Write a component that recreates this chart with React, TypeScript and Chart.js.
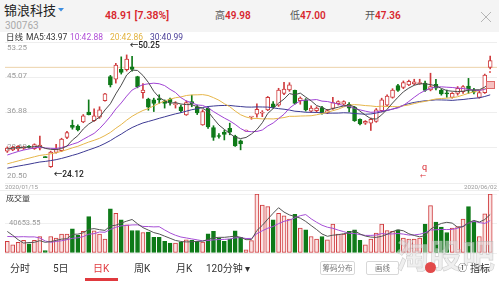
import React, { useEffect, useRef } from "react";
import { Chart, registerables } from "chart.js";
Chart.register(...registerables);

// ---------- data ----------
const dates = [
  "2020/01/15","2020/01/16","2020/01/17","2020/01/20","2020/01/21","2020/01/22","2020/01/23",
  "2020/02/03","2020/02/04","2020/02/05","2020/02/06","2020/02/07","2020/02/10","2020/02/11","2020/02/12","2020/02/13","2020/02/14",
  "2020/02/17","2020/02/18","2020/02/19","2020/02/20","2020/02/21","2020/02/24","2020/02/25","2020/02/26","2020/02/27","2020/02/28",
  "2020/03/02","2020/03/03","2020/03/04","2020/03/05","2020/03/06","2020/03/09","2020/03/10","2020/03/11","2020/03/12","2020/03/13",
  "2020/03/16","2020/03/17","2020/03/18","2020/03/19","2020/03/20","2020/03/23","2020/03/24","2020/03/25","2020/03/26","2020/03/27",
  "2020/03/30","2020/03/31",
  "2020/04/01","2020/04/02","2020/04/03","2020/04/07","2020/04/08","2020/04/09","2020/04/10","2020/04/13","2020/04/14","2020/04/15",
  "2020/04/16","2020/04/17","2020/04/20","2020/04/21","2020/04/22","2020/04/23","2020/04/24","2020/04/27","2020/04/28","2020/04/29","2020/04/30",
  "2020/05/06","2020/05/07","2020/05/08","2020/05/11","2020/05/12","2020/05/13","2020/05/14","2020/05/15","2020/05/18","2020/05/19",
  "2020/05/20","2020/05/21","2020/05/22","2020/05/25","2020/05/26","2020/05/27","2020/05/28","2020/05/29",
  "2020/06/01","2020/06/02",
];

const opens = [
  27.9,28.2,28.4,28.6,29.0,28.5,28.6,26.4,24.3,27.6,
  28.0,31.1,33.9,33.7,34.7,37.0,35.0,35.8,39.6,45.2,
  44.6,46.9,46.8,47.5,45.2,41.5,40.0,39.8,40.1,39.5,
  40.0,38.7,38.2,36.3,39.4,38.2,34.0,37.9,33.4,31.5,
  32.3,33.2,31.4,30.3,32.56,35.82,36.5,36.7,37.5,38.9,
  38.6,41.3,42.1,42.0,39.6,39.8,37.2,37.3,38.0,36.85,
  37.8,38.9,38.8,38.8,38.1,35.3,34.4,34.4,34.8,37.3,
  38.6,40.4,43.1,42.7,43.3,43.5,43.6,43.7,42.1,43.4,
  42.0,41.4,40.4,41.3,41.7,43.0,42.1,40.4,41.5,47.36,
];
const highs = [
  28.9,29.0,29.2,29.0,29.2,29.6,31.4,26.4,27.9,29.5,
  30.9,32.5,35.1,34.0,36.4,39.8,37.7,38.2,41.3,45.5,
  48.3,49.8,50.25,49.9,45.3,43.6,40.2,40.2,41.0,39.8,
  40.2,39.4,38.6,39.6,40.9,38.6,37.5,38.2,33.8,32.0,
  32.8,34.4,31.6,30.5,32.56,35.82,38.9,37.3,40.6,39.4,
  42.5,43.9,43.8,42.1,40.5,40.1,38.4,38.2,38.3,37.6,
  40.4,39.6,39.6,39.2,38.3,35.4,35.0,35.6,37.8,40.2,
  41.0,42.4,43.4,44.2,44.4,44.6,44.6,44.2,46.0,44.6,
  42.3,42.1,41.5,42.9,43.1,44.8,42.5,41.9,45.8,49.98,
];
const lows = [
  27.6,28.0,28.0,28.3,28.6,28.3,28.2,26.4,24.12,27.4,
  27.8,30.8,33.0,32.6,34.5,36.3,34.8,35.5,39.5,42.8,
  43.7,45.8,46.5,46.5,42.6,40.2,37.4,37.1,39.0,37.9,
  38.6,37.9,36.9,36.2,38.2,36.4,33.9,33.2,30.4,30.9,
  30.5,31.7,29.0,28.2,32.56,35.3,35.8,35.9,37.3,37.9,
  38.3,41.0,41.8,38.8,38.8,37.2,36.9,36.9,36.5,36.6,
  37.6,38.6,38.6,37.0,34.8,34.0,34.1,32.7,34.6,37.0,
  38.4,40.2,41.8,42.4,43.1,43.3,43.4,41.8,41.9,42.1,
  40.9,40.4,40.2,40.9,41.3,41.3,41.2,40.2,41.3,47.0,
];
const closes = [
  28.6,28.8,29.0,28.8,28.8,29.4,29.3,26.4,27.7,28.4,
  30.7,32.2,33.4,32.8,36.1,36.4,36.1,37.5,41.2,43.3,
  47.9,46.2,49.3,46.9,42.9,42.1,38.1,39.0,39.8,39.0,
  39.2,38.9,37.3,39.2,38.9,36.8,37.1,33.5,31.1,31.3,
  31.8,32.3,29.1,29.6,32.56,35.82,37.6,36.9,40.4,38.25,
  42.1,42.3,43.3,39.0,40.2,37.5,37.9,37.9,36.7,37.3,
  39.2,39.4,39.4,37.9,35.0,34.2,34.8,35.3,37.5,39.8,
  40.7,42.1,42.0,43.8,44.1,44.0,43.8,42.0,42.9,42.5,
  41.2,41.2,41.3,42.5,42.9,42.3,41.6,41.5,45.55,48.91,
];
const volumes = [
  16000,11400,14600,17400,12800,17400,22800,3200,22800,20600,
  26000,26000,33300,24200,29700,50200,30600,26000,19200,60800,
  54800,45700,38800,31000,31000,28300,28800,21500,21500,16000,
  13700,13700,14600,18300,17400,16000,15100,26500,29700,20600,
  16000,19200,30600,21500,4500,17000,81300,66200,64000,45700,
  54800,51200,46600,53400,34300,32000,22800,19200,22800,18300,
  39700,26000,26000,29700,32000,17400,11400,19200,27400,39700,
  31000,29700,32000,20600,19200,19200,20600,39700,65300,42500,
  35600,28300,34300,36500,46600,64000,43400,22800,53900,81300,
];
// closes / volumes before the first visible day (feed the moving averages)
const priorCloses = [
  21.5,21.8,22.2,21.9,21.6,22.0,22.3,21.8,22.1,22.0,
  22.0,22.3,22.1,22.6,22.9,23.0,23.2,23.4,23.6,23.9,
  24.6,25.0,25.5,26.2,26.8,27.8,28.3,28.5,28.7,
];
const priorVolumes = [14000,17000,15500,16000,17000,38000,45000,40400,9100];

const priceTicks = [20.5, 28.69, 36.88, 45.07, 53.25];
const volumeTicks = [0, 40653.55, 81307.1];
const refPrice = 47.36;
const maPeriods = [5, 10, 20, 30];
const volMaPeriods = [5, 10];

// ---------- styles ----------
const RED = "#cf3b3d";
const GREEN = "#0e7a18";
const MA_COLORS = ["#4a4a4a", "#a043d4", "#e6b64a", "#3d3a93"];
const VOL_MA_COLORS = ["#555555", "#a64fd6"];
const X_MIN = -0.424;
const X_MAX = 90.254;
const FONT = "Roboto, 'Noto Sans CJK SC', sans-serif";

function movingAvg(values: number[], prior: number[], n: number) {
  const all = prior.concat(values);
  return values.map((_, i) => {
    const j = i + prior.length;
    let s = 0;
    for (let k = j - n + 1; k <= j; k++) s += all[k];
    return s / n;
  });
}

const idx = dates.map((_, i) => i);
const isUp = idx.map((i) => {
  if (closes[i] !== opens[i]) return closes[i] > opens[i];
  const prev = i > 0 ? closes[i - 1] : priorCloses[priorCloses.length - 1];
  return closes[i] >= prev;
});

export default function App() {
  const priceRef = useRef<HTMLCanvasElement | null>(null);
  const volRef = useRef<HTMLCanvasElement | null>(null);

  useEffect(() => {
    const xScale = { type: "linear" as const, min: X_MIN, max: X_MAX, display: false, offset: false };

    const priceLabels = {
      id: "priceLabels",
      beforeDatasetsDraw(chart: any) {
        const ctx = chart.ctx;
        const ys = chart.scales.y;
        ctx.save();
        ctx.font = `8px ${FONT}`;
        ctx.fillStyle = "#9a9a9a";
        ctx.textAlign = "left";
        priceTicks.forEach((v, k) => {
          const py = ys.getPixelForValue(v);
          if (k === priceTicks.length - 1) {
            ctx.textBaseline = "top";
            ctx.fillText(v.toFixed(2), 7, py + 2);
          } else if (k === 0) {
            ctx.textBaseline = "bottom";
            ctx.fillText(v.toFixed(2), 7, py - 3);
          } else {
            ctx.textBaseline = "middle";
            ctx.fillText(v.toFixed(2), 7, py - 1);
          }
        });
        ctx.restore();
      },
      afterDatasetsDraw(chart: any) {
        const ctx = chart.ctx;
        const ys = chart.scales.y;
        const xs = chart.scales.x;
        const area = chart.chartArea;
        ctx.save();
        ctx.font = `6.2px ${FONT}`;
        ctx.textBaseline = "middle";
        ctx.fillStyle = "#999";
        ctx.textAlign = "left";
        ctx.fillText(dates[0], 5, area.bottom + 4);
        ctx.textAlign = "right";
        ctx.fillText(dates[dates.length - 1], 497, area.bottom + 4);
        // high / low markers
        let hi = 0, lo = 0;
        idx.forEach((i) => {
          if (highs[i] > highs[hi]) hi = i;
          if (lows[i] < lows[lo]) lo = i;
        });
        ctx.textAlign = "left";
        ctx.fillStyle = "#222";
        ctx.font = `500 8.5px ${FONT}`;
        ctx.fillText("←" + highs[hi].toFixed(2), xs.getPixelForValue(hi) + 3, ys.getPixelForValue(highs[hi]) - 9);
        ctx.fillText("←" + lows[lo].toFixed(2), xs.getPixelForValue(lo) + 3, ys.getPixelForValue(lows[lo]) + 7);
        ctx.restore();
      },
    };

    const priceMAs = maPeriods.map((n) => movingAvg(closes, priorCloses, n));

    const priceChart = new Chart(priceRef.current as HTMLCanvasElement, {
      type: "bar",
      data: {
        datasets: [
          ...priceMAs.map((ma, k) => ({
            type: "line" as const,
            data: idx.map((i) => ({ x: i, y: ma[i] })),
            borderColor: MA_COLORS[k],
            borderWidth: 1,
            pointRadius: 0,
            order: 0,
          })),
          {
            type: "bar" as const,
            data: idx.map((i) => ({ x: i, y: [opens[i], closes[i]] })),
            backgroundColor: idx.map((i) => (isUp[i] ? "#ffffff" : GREEN)),
            borderColor: idx.map((i) => (isUp[i] ? RED : GREEN)),
            borderWidth: 1,
            borderSkipped: false,
            barThickness: 4,
            minBarLength: 1,
            grouped: false,
            order: 1,
          },
          {
            type: "bar" as const,
            data: idx.map((i) => ({ x: i, y: [lows[i], highs[i]] })),
            backgroundColor: idx.map((i) => (isUp[i] ? RED : GREEN)),
            borderWidth: 0,
            barThickness: 1,
            minBarLength: 1,
            grouped: false,
            order: 2,
          },
          {
            type: "line" as const,
            data: [
              { x: X_MIN, y: refPrice },
              { x: X_MAX, y: refPrice },
            ],
            borderColor: "#ecd2ab",
            borderWidth: 1,
            pointRadius: 0,
            order: 5,
          },
        ] as any,
      },
      options: {
        animation: false,
        responsive: false,
        events: [],
        layout: { padding: { left: 5, right: 2, top: 10, bottom: 9 } },
        plugins: { legend: { display: false }, tooltip: { enabled: false } },
        scales: {
          x: xScale,
          y: {
            type: "linear",
            min: priceTicks[0],
            max: priceTicks[priceTicks.length - 1],
            grid: { color: "#eeeeee", drawTicks: false, lineWidth: 1 },
            border: { display: false },
            ticks: { display: false },
            afterBuildTicks: (s: any) => {
              s.ticks = priceTicks.map((v) => ({ value: v }));
            },
            afterFit: (s: any) => {
              s.width = 0;
            },
          },
        },
      } as any,
      plugins: [priceLabels],
    });

    const volLabels = {
      id: "volLabels",
      afterDatasetsDraw(chart: any) {
        const ctx = chart.ctx;
        const ys = chart.scales.y;
        ctx.save();
        ctx.font = `7.5px ${FONT}`;
        ctx.fillStyle = "#999";
        ctx.textAlign = "left";
        ctx.textBaseline = "middle";
        ctx.fillText(volumeTicks[1].toFixed(2), 9, ys.getPixelForValue(volumeTicks[1]));
        ctx.restore();
      },
    };

    const volMAs = volMaPeriods.map((n) => movingAvg(volumes, priorVolumes, n));

    const volChart = new Chart(volRef.current as HTMLCanvasElement, {
      type: "bar",
      data: {
        datasets: [
          ...volMAs.map((ma, k) => ({
            type: "line" as const,
            data: idx.map((i) => ({ x: i, y: ma[i] })),
            borderColor: VOL_MA_COLORS[k],
            borderWidth: 1,
            pointRadius: 0,
            order: 0,
          })),
          {
            type: "bar" as const,
            data: idx.map((i) => ({ x: i, y: volumes[i] })),
            backgroundColor: idx.map((i) => (isUp[i] ? "#fbe4e4" : GREEN)),
            borderColor: idx.map((i) => (isUp[i] ? RED : GREEN)),
            borderWidth: 1,
            borderSkipped: false,
            barThickness: 4,
            grouped: false,
            order: 1,
          },
        ] as any,
      },
      options: {
        animation: false,
        responsive: false,
        events: [],
        layout: { padding: { left: 5, right: 2, top: 8, bottom: 5 } },
        plugins: { legend: { display: false }, tooltip: { enabled: false } },
        scales: {
          x: xScale,
          y: {
            type: "linear",
            min: volumeTicks[0],
            max: volumeTicks[volumeTicks.length - 1],
            grid: { color: "#f0f0f0", drawTicks: false, lineWidth: 1 },
            border: { display: false },
            ticks: { display: false },
            afterBuildTicks: (s: any) => {
              s.ticks = volumeTicks.map((v) => ({ value: v }));
            },
            afterFit: (s: any) => {
              s.width = 0;
            },
          },
        },
      } as any,
      plugins: [volLabels],
    });

    return () => {
      priceChart.destroy();
      volChart.destroy();
    };
  }, []);

  const abs = (left: number, top: number, size: number, color: string, extra: any = {}) => ({
    position: "absolute" as const,
    left,
    top,
    fontSize: size,
    lineHeight: `${size}px`,
    color,
    whiteSpace: "nowrap" as const,
    ...extra,
  });

  return (
    <div
      style={{
        position: "fixed",
        left: 0,
        top: 0,
        width: 499,
        height: 281,
        background: "#fff",
        overflow: "hidden",
        fontFamily: FONT,
      }}
    >
      {/* header */}
      <div style={{ position: "absolute", left: 0, top: 0, width: 499, height: 32, background: "#f4f4f4" }} />
      <div style={abs(4, 4, 13, "#222")}>锦浪科技</div>
      <svg style={{ position: "absolute", left: 58, top: 8 }} width="6" height="4">
        <polygon points="0,0 6,0 3,3.5" fill="#3b8de0" />
      </svg>
      <div style={abs(5, 21, 10, "#aaa")}>300763</div>
      <div style={abs(105, 10.5, 10.5, "#d8262e", { fontWeight: 600 })}>48.91 [7.38%]</div>
      <div style={abs(215, 11, 10, "#555")}>
        高<span style={{ color: "#d8262e", fontWeight: 600 }}>49.98</span>
      </div>
      <div style={abs(290, 11, 10, "#555")}>
        低<span style={{ color: "#d8262e", fontWeight: 600 }}>47.00</span>
      </div>
      <div style={abs(365, 11, 10, "#555")}>
        开<span style={{ color: "#d8262e", fontWeight: 600 }}>47.36</span>
      </div>
      <svg style={{ position: "absolute", left: 480, top: 11 }} width="12" height="12">
        <line x1="1" y1="1" x2="11" y2="11" stroke="#b5b5b5" strokeWidth="1" />
        <line x1="11" y1="1" x2="1" y2="11" stroke="#b5b5b5" strokeWidth="1" />
      </svg>

      {/* price chart */}
      <div style={{ position: "absolute", left: 0, top: 32, width: 499, height: 160 }}>
        <canvas ref={priceRef} width={499} height={160} style={{ width: 499, height: 160 }} />
      </div>

      {/* MA legend row */}
      <div style={abs(6, 33, 8.5, "#333")}>日线</div>
      <div style={abs(26, 33, 8.5, "#333")}>MA5:43.97</div>
      <div style={abs(70, 33, 8.5, "#b050d6")}>10:42.88</div>
      <div style={abs(110, 33, 8.5, "#e2b340")}>20:42.86</div>
      <div style={abs(150, 33, 8.5, "#4a3e98")}>30:40.99</div>

      {/* markers */}
      <div style={abs(422, 163, 9, "#d8262e")}>q</div>
      <div style={abs(420, 173, 6, "#d8262e")}>←</div>
      <div
        style={{
          position: "absolute",
          left: 486,
          top: 81,
          width: 7,
          height: 6,
          background: "#f6c0c0",
          border: "1px solid #e06a6a",
        }}
      />
      <div style={{ position: "absolute", left: 489, top: 71, width: 2, height: 2, borderRadius: 1, background: "#e05050" }} />

      <div style={{ position: "absolute", left: 0, top: 190, width: 499, height: 1, background: "#eeeeee" }} />
      <div style={abs(6, 195, 8, "#333")}>成交量</div>

      {/* volume chart */}
      <div style={{ position: "absolute", left: 0, top: 186, width: 499, height: 72 }}>
        <canvas ref={volRef} width={499} height={72} style={{ width: 499, height: 72 }} />
      </div>

      {/* watermark */}
      <div
        style={abs(396, 240, 33, "rgba(225,225,225,0.55)", {
          fontWeight: 700,
          WebkitTextStroke: "0.6px rgba(175,175,175,0.55)",
        })}
      >
        淘股吧
      </div>

      {/* bottom tabs */}
      <div style={abs(10, 264, 10, "#333")}>分时</div>
      <div style={abs(53, 264, 10, "#333")}>5日</div>
      <div style={abs(93, 264, 10, "#e0393e")}>日K</div>
      <div style={abs(134, 264, 10, "#333")}>周K</div>
      <div style={abs(176, 264, 10, "#333")}>月K</div>
      <div style={abs(206, 264, 10, "#333")}>120分钟 ▾</div>
      <div style={{ position: "absolute", left: 85, top: 278, width: 33, height: 3, background: "#e0393e" }} />

      <div
        style={{
          position: "absolute",
          left: 320,
          top: 261,
          width: 35,
          height: 14,
          border: "1px solid #d8d8d8",
          borderRadius: 2,
          fontSize: 7.5,
          lineHeight: "14px",
          color: "#777",
          textAlign: "center",
          boxSizing: "border-box",
        }}
      >
        筹码分布
      </div>
      <div
        style={{
          position: "absolute",
          left: 366,
          top: 261,
          width: 33,
          height: 14,
          border: "1px solid #d8d8d8",
          borderRadius: 2,
          fontSize: 7.5,
          lineHeight: "14px",
          color: "#777",
          textAlign: "center",
          boxSizing: "border-box",
        }}
      >
        画线
      </div>
      <div
        style={{
          position: "absolute",
          left: 424.5,
          top: 261.5,
          width: 11,
          height: 11,
          borderRadius: "50%",
          background: "#e24a4a",
        }}
      />
      <div style={abs(458, 264, 9, "#333")}>①</div>
      <div style={abs(470, 264, 10, "#333")}>指标</div>
    </div>
  );
}
